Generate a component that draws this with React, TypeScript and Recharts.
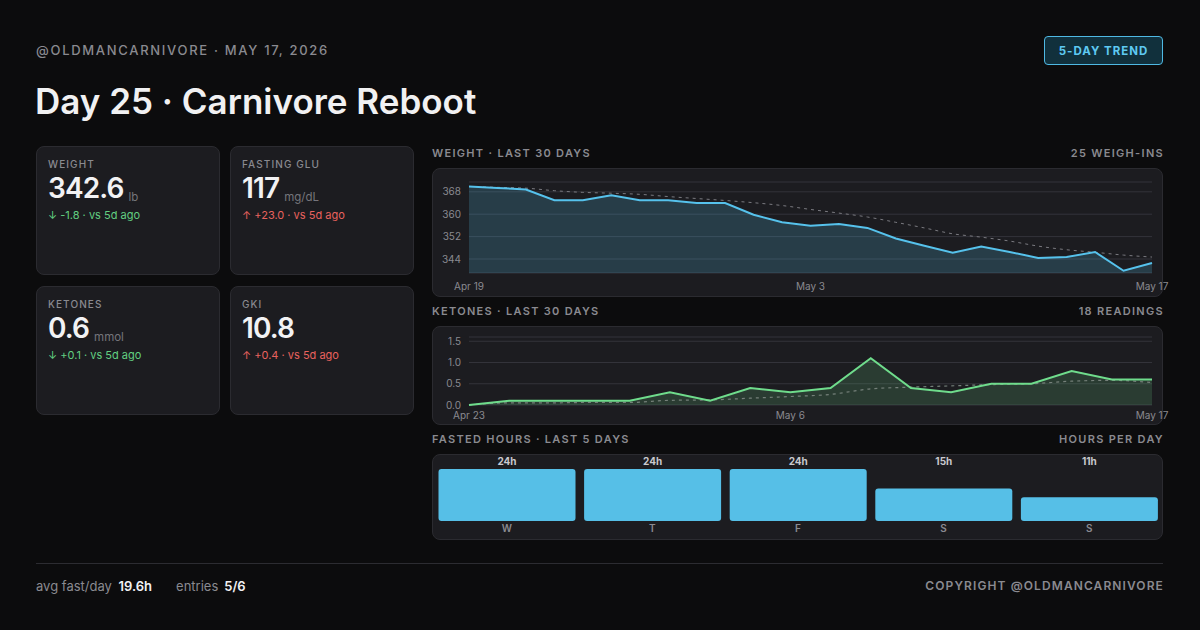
import React from "react";
import {
  ComposedChart,
  BarChart,
  Bar,
  Area,
  Line,
  XAxis,
  YAxis,
  CartesianGrid,
  LabelList,
} from "recharts";

// weight, 25 weigh-ins (Apr 19 -> May 17)
const WEIGHT = [
  369.9, 369.4, 368.8, 365.0, 365.0, 366.8, 365.0, 365.0, 364.0, 364.0, 359.8, 357.1, 355.9,
  356.5, 355.1, 351.3, 348.7, 346.2, 348.5, 346.5, 344.4, 344.7, 346.5, 339.8, 342.6,
];
const WEIGHT_TREND = [
  369.9, 369.6, 369.3, 368.4, 367.8, 367.5, 367.1, 366.3, 365.6, 364.9, 364.1, 363.1, 361.7,
  360.4, 359.0, 357.1, 355.1, 353.0, 351.8, 350.4, 348.6, 347.3, 346.4, 345.4, 344.7,
];
const WEIGHT_TICK_IDX = [0, 12, 24];
const WEIGHT_TICK_LABELS = ["Apr 19", "May 3", "May 17"];
const WEIGHT_Y_TICKS = [344, 352, 360, 368];

// ketones, 18 readings (Apr 23 -> May 17)
const KETONES = [0.0, 0.1, 0.1, 0.1, 0.1, 0.3, 0.1, 0.4, 0.3, 0.4, 1.1, 0.4, 0.3, 0.5, 0.5, 0.8, 0.6, 0.6];
const KETONE_TREND = [
  0.0, 0.05, 0.05, 0.06, 0.06, 0.11, 0.12, 0.16, 0.2, 0.25, 0.38, 0.42, 0.45, 0.48, 0.5, 0.56, 0.58, 0.53,
];
const KETONE_TICK_IDX = [0, 8, 17];
const KETONE_TICK_LABELS = ["Apr 23", "May 6", "May 17"];
const KETONE_Y_TICKS = [0, 0.5, 1, 1.5];

// fasted hours, last 5 days
const FAST_DAYS = ["W", "T", "F", "S", "S"];
const FAST_HOURS = [24, 24, 24, 15, 11];
const FAST_MAX = 24;

const STATS = [
  { label: "WEIGHT", value: "342.6", unit: "lb", delta: "↓ -1.8 · vs 5d ago", good: true },
  { label: "FASTING GLU", value: "117", unit: "mg/dL", delta: "↑ +23.0 · vs 5d ago", good: false },
  { label: "KETONES", value: "0.6", unit: "mmol", delta: "↓ +0.1 · vs 5d ago", good: true },
  { label: "GKI", value: "10.8", unit: "", delta: "↑ +0.4 · vs 5d ago", good: false },
];

const FONT = "Inter, 'Noto Sans', sans-serif";
const BG = "#0c0c0d";
const CARD = "#1c1c20";
const CARD_BORDER = "#2b2b30";
const MUTED = "#8a8a90";
const GRID = "#33333a";
const BLUE = "#56c2ec";
const GREEN = "#6fdc8c";

const weightData = WEIGHT.map((w, i) => ({ i, w, t: WEIGHT_TREND[i] }));
const ketoneData = KETONES.map((k, i) => ({ i, k, t: KETONE_TREND[i] }));
const fastData = FAST_HOURS.map((h, i) => ({ i, h }));

const axisTick = { fill: MUTED, fontSize: 10, fontFamily: FONT };

function Card({ x, y, w, h, children }: any) {
  return (
    <div
      style={{
        position: "absolute",
        left: x,
        top: y,
        width: w,
        height: h,
        boxSizing: "border-box",
        background: CARD,
        border: `1px solid ${CARD_BORDER}`,
        borderRadius: 8,
      }}
    >
      <div style={{ position: "absolute", left: -1, top: -1 }}>{children}</div>
    </div>
  );
}

function SectionTitle({ y, left, right }: { y: number; left: string; right: string }) {
  const s: React.CSSProperties = {
    position: "absolute",
    top: y,
    fontSize: 11,
    lineHeight: "13px",
    fontWeight: 600,
    letterSpacing: 1.3,
    color: MUTED,
  };
  return (
    <>
      <div style={{ ...s, left: 432 }}>{left}</div>
      <div style={{ ...s, right: 1200 - 1164 }}>{right}</div>
    </>
  );
}

function StatCard({ stat, x, y }: any) {
  return (
    <div
      style={{
        position: "absolute",
        left: x,
        top: y,
        width: 184,
        height: 129,
        boxSizing: "border-box",
        background: CARD,
        border: `1px solid ${CARD_BORDER}`,
        borderRadius: 8,
      }}
    >
      <div
        style={{
          position: "absolute",
          left: 11,
          top: 11,
          fontSize: 10,
          lineHeight: "12px",
          fontWeight: 500,
          letterSpacing: 1.1,
          color: MUTED,
        }}
      >
        {stat.label}
      </div>
      <div style={{ position: "absolute", left: 11, top: 27, display: "flex", alignItems: "baseline" }}>
        <span style={{ fontSize: 28, lineHeight: "28px", fontWeight: 600, color: "#f2f2f4", letterSpacing: -0.9 }}>
          {stat.value}
        </span>
        {stat.unit && (
          <span style={{ fontSize: 11.5, marginLeft: 5, color: "#75757b", position: "relative", top: 3 }}>
            {stat.unit}
          </span>
        )}
      </div>
      <div
        style={{
          position: "absolute",
          left: 11,
          top: 61,
          fontSize: 11,
          lineHeight: "14px",
          color: stat.good ? "#62cf82" : "#e8625e",
        }}
      >
        {stat.delta}
      </div>
    </div>
  );
}

function WeightChart() {
  return (
    <ComposedChart width={731} height={129} data={weightData} margin={{ top: 14, right: 11, left: 0, bottom: 0 }}>
      <CartesianGrid vertical={false} stroke={GRID} />
      <XAxis
        dataKey="i"
        type="number"
        domain={[0, WEIGHT.length - 1]}
        ticks={WEIGHT_TICK_IDX}
        interval={0}
        tickFormatter={(v) => WEIGHT_TICK_LABELS[WEIGHT_TICK_IDX.indexOf(v)] ?? ""}
        axisLine={false}
        tickLine={false}
        tickMargin={4}
        height={24}
        tick={axisTick}
      />
      <YAxis
        domain={[339, 371.5]}
        ticks={WEIGHT_Y_TICKS}
        interval={0}
        axisLine={false}
        tickLine={false}
        width={37}
        tick={axisTick}
      />
      <Area dataKey="w" type="linear" stroke="none" fill={BLUE} fillOpacity={0.2} isAnimationActive={false} />
      <Line dataKey="t" type="monotone" stroke="#7a7a80" strokeWidth={1} strokeDasharray="3 4" dot={false} isAnimationActive={false} />
      <Line dataKey="w" type="linear" stroke={BLUE} strokeWidth={2} dot={false} isAnimationActive={false} />
    </ComposedChart>
  );
}

function KetoneChart() {
  return (
    <ComposedChart width={731} height={99} data={ketoneData} margin={{ top: 11, right: 11, left: 0, bottom: 0 }}>
      <CartesianGrid vertical={false} stroke={GRID} />
      <XAxis
        dataKey="i"
        type="number"
        domain={[0, KETONES.length - 1]}
        ticks={KETONE_TICK_IDX}
        interval={0}
        tickFormatter={(v) => KETONE_TICK_LABELS[KETONE_TICK_IDX.indexOf(v)] ?? ""}
        axisLine={false}
        tickLine={false}
        tickMargin={1}
        height={20}
        tick={axisTick}
      />
      <YAxis
        domain={[0, 1.6]}
        ticks={KETONE_Y_TICKS}
        interval={0}
        tickFormatter={(v) => Number(v).toFixed(1)}
        axisLine={false}
        tickLine={false}
        width={37}
        tick={axisTick}
      />
      <Area dataKey="k" type="linear" stroke="none" fill={GREEN} fillOpacity={0.17} isAnimationActive={false} />
      <Line dataKey="t" type="monotone" stroke="#75807a" strokeWidth={1.2} strokeDasharray="3 4" dot={false} isAnimationActive={false} />
      <Line dataKey="k" type="linear" stroke={GREEN} strokeWidth={2} dot={false} isAnimationActive={false} />
    </ComposedChart>
  );
}

// hour labels sit in one row above the tallest possible bar
function HourLabel(props: any) {
  const { x, y, width, height, value } = props;
  const bottom = y + height;
  const top = bottom - (height * FAST_MAX) / value;
  return (
    <text
      x={x + width / 2}
      y={top - 4}
      textAnchor="middle"
      fill="#c9c9ce"
      fontSize={10}
      fontWeight={700}
      fontFamily={FONT}
    >
      {`${value}h`}
    </text>
  );
}

function FastChart() {
  return (
    <BarChart width={731} height={86} data={fastData} margin={{ top: 15, right: 1, left: 2, bottom: 0 }} barCategoryGap={4.5}>
      <XAxis
        dataKey="i"
        tickFormatter={(v) => FAST_DAYS[v]}
        axisLine={false}
        tickLine={false}
        tickSize={0}
        tickMargin={4}
        height={19}
        interval={0}
        tick={{ ...axisTick, fontWeight: 600 }}
      />
      <YAxis hide domain={[0, FAST_MAX]} />
      <Bar dataKey="h" fill="#56bfe7" radius={3} isAnimationActive={false}>
        <LabelList dataKey="h" content={<HourLabel />} />
      </Bar>
    </BarChart>
  );
}

export default function App() {
  return (
    <div
      style={{
        position: "absolute",
        left: 0,
        top: 0,
        width: 1200,
        height: 630,
        background: BG,
        fontFamily: FONT,
        overflow: "hidden",
      }}
    >
      <style>{`.recharts-surface { overflow: visible; }`}</style>

      <div
        style={{
          position: "absolute",
          left: 36,
          top: 42,
          fontSize: 13,
          lineHeight: "16px",
          fontWeight: 500,
          letterSpacing: 1.7,
          color: MUTED,
        }}
      >
        @OLDMANCARNIVORE · MAY 17, 2026
      </div>
      <div
        style={{
          position: "absolute",
          left: 1044,
          top: 36,
          width: 119,
          height: 29,
          boxSizing: "border-box",
          border: "1px solid #4fb9e3",
          background: "#11303c",
          borderRadius: 4,
          color: "#5ec9f2",
          fontSize: 11.5,
          fontWeight: 700,
          letterSpacing: 1,
          display: "flex",
          alignItems: "center",
          justifyContent: "center",
        }}
      >
        5-DAY TREND
      </div>
      <div
        style={{
          position: "absolute",
          left: 35,
          top: 81,
          fontSize: 35,
          lineHeight: "40px",
          fontWeight: 600,
          letterSpacing: 0,
          color: "#f1f1f2",
        }}
      >
        Day 25 · Carnivore Reboot
      </div>

      <StatCard stat={STATS[0]} x={36} y={146} />
      <StatCard stat={STATS[1]} x={230} y={146} />
      <StatCard stat={STATS[2]} x={36} y={286} />
      <StatCard stat={STATS[3]} x={230} y={286} />

      <SectionTitle y={147} left="WEIGHT · LAST 30 DAYS" right="25 WEIGH-INS" />
      <Card x={432} y={168} w={731} h={129}>
        <WeightChart />
      </Card>

      <SectionTitle y={305} left="KETONES · LAST 30 DAYS" right="18 READINGS" />
      <Card x={432} y={326} w={731} h={99}>
        <KetoneChart />
      </Card>

      <SectionTitle y={433} left="FASTED HOURS · LAST 5 DAYS" right="HOURS PER DAY" />
      <Card x={432} y={454} w={731} h={86}>
        <FastChart />
      </Card>

      <div style={{ position: "absolute", left: 36, top: 563, width: 1127, height: 1, background: "#2c2c31" }} />
      <div style={{ position: "absolute", left: 36, top: 578, fontSize: 13, lineHeight: "16px", color: MUTED }}>
        avg fast/day <b style={{ color: "#f2f2f4", fontWeight: 600, marginLeft: 3 }}>19.6h</b>
        <span style={{ marginLeft: 24 }}>entries</span>
        <b style={{ color: "#f2f2f4", fontWeight: 600, marginLeft: 6 }}>5/6</b>
      </div>
      <div
        style={{
          position: "absolute",
          right: 1200 - 1164,
          top: 578,
          fontSize: 12,
          lineHeight: "16px",
          fontWeight: 600,
          letterSpacing: 1.1,
          color: MUTED,
        }}
      >
        COPYRIGHT @OLDMANCARNIVORE
      </div>
    </div>
  );
}
